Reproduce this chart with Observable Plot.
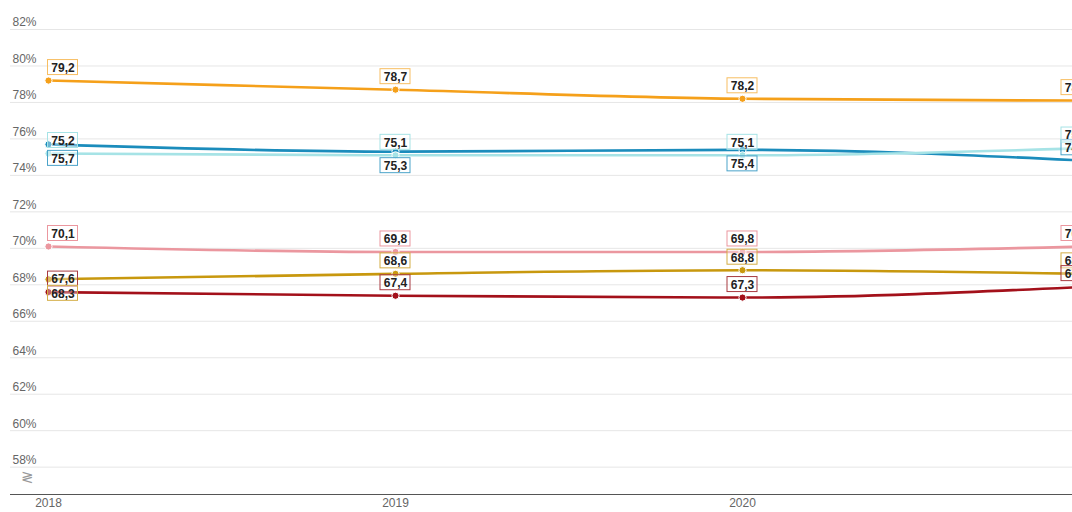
<!DOCTYPE html>
<html>
<head>
<meta charset="utf-8">
<script src="https://cdn.jsdelivr.net/npm/d3@7"></script>
<script src="https://cdn.jsdelivr.net/npm/@observablehq/plot@0.6"></script>
<style>
  html, body { margin: 0; padding: 0; background: #fff; overflow: hidden; }
  #chart svg { overflow: hidden; }
</style>
</head>
<body>
<div id="chart"></div>
<script>
// ---- data ----
const years = [2018, 2019, 2020, 2021];
const yTicks = [58, 60, 62, 64, 66, 68, 70, 72, 74, 76, 78, 80, 82];

const seriesOrange   = [79.2, 78.7, 78.2, 78.1];
const seriesDarkBlue = [75.7, 75.3, 75.4, 74.8];
const seriesCyan     = [75.2, 75.1, 75.1, 75.5];
const seriesPink     = [70.1, 69.8, 69.8, 70.1];
const seriesGold     = [68.3, 68.6, 68.8, 68.6];
const seriesDarkRed  = [67.6, 67.4, 67.3, 67.9];

// label placement relative to point (above / below)
const posOrange   = ["above", "above", "above", "above"];
const posDarkBlue = ["below", "below", "below", "above"];
const posCyan     = ["above", "above", "above", "above"];
const posPink     = ["above", "above", "above", "above"];
const posGold     = ["below", "above", "above", "above"];
const posDarkRed  = ["above", "above", "above", "above"];

const series = [
  {name: "Orange",    values: seriesOrange,   pos: posOrange,   color: "#f5a01a", border: "#f7be62"},
  {name: "Dark blue", values: seriesDarkBlue, pos: posDarkBlue, color: "#1b8cbc", border: "#4aa3c9"},
  {name: "Cyan",      values: seriesCyan,     pos: posCyan,     color: "#a6e3e6", border: "#a6e3e6"},
  {name: "Pink",      values: seriesPink,     pos: posPink,     color: "#eb979f", border: "#eb979f"},
  {name: "Gold",      values: seriesGold,     pos: posGold,     color: "#c8980e", border: "#d4ad45"},
  {name: "Dark red",  values: seriesDarkRed,  pos: posDarkRed,  color: "#a3101a", border: "#a83a40"}
];

const rows = [];
series.forEach(s => s.values.forEach((v, i) => rows.push({
  series: s.name, year: years[i], idx: i, value: v, pos: s.pos[i], color: s.color, border: s.border
})));

const fmt = v => v.toFixed(1).replace(".", ",");

// ---- marks ----
const marks = [];
marks.push(Plot.ruleY(yTicks, {y: d => d, stroke: "#e6e6e6", insetLeft: 10}));
marks.push(Plot.text(yTicks, {y: d => d, text: d => d + "%", frameAnchor: "left", textAnchor: "start",
  dx: 12, dy: -7, fill: "#666", fontSize: 12}));
marks.push(Plot.ruleY([56.5], {stroke: "#555", insetLeft: 10}));
marks.push(Plot.text(["≷"], {frameAnchor: "bottom-left", dx: 20, dy: -31, fill: "#999", fontSize: 15}));
marks.push(Plot.text(years, {x: d => d, text: d => String(d), frameAnchor: "bottom", dy: -6, fill: "#666", fontSize: 12}));

// lines & markers (cyan drawn after dark blue)
const drawOrder = ["Orange", "Dark blue", "Cyan", "Pink", "Gold", "Dark red"];
drawOrder.forEach(name => {
  const d = rows.filter(r => r.series === name);
  marks.push(Plot.line(d, {x: "year", y: "value", stroke: "color", strokeWidth: 2.6, curve: "monotone-x"}));
  marks.push(Plot.dot(d, {x: "year", y: "value", fill: "color", stroke: "white", strokeWidth: 1, r: 3.6}));
});

// data labels with boxes
const hShift = i => i === 0 ? 14.5 : (i === years.length - 1 ? -13 : 0);
const vShift = p => p === "above" ? -13 : 14;
const boxW = 30, boxH = 15;
const groups = d3.groups(rows, r => hShift(r.idx) + "|" + vShift(r.pos));
groups.forEach(([key, d]) => {
  const [dx, dy] = key.split("|").map(Number);
  marks.push(Plot.rect(d, {
    x1: "year", x2: "year", y1: "value", y2: "value",
    insetLeft: dx - boxW / 2, insetRight: -boxW / 2 - dx,
    insetTop: dy - boxH / 2, insetBottom: -boxH / 2 - dy,
    fill: "white", fillOpacity: 0.35, stroke: "border", strokeWidth: 1
  }));
  marks.push(Plot.text(d, {
    x: "year", y: "value", text: r => fmt(r.value), dx, dy: dy + 0.5,
    fill: "#222", fontWeight: "bold", fontSize: 12
  }));
});

const chart = Plot.plot({
  width: 1072,
  height: 512,
  marginTop: 0, marginRight: 0, marginBottom: 0, marginLeft: 0,
  x: {domain: [2018, 2021], range: [48, 1089], axis: null},
  y: {domain: [56.5, 82], range: [494, 29], axis: null},
  color: {type: "identity"},
  style: {fontFamily: "'Liberation Sans', Arial, sans-serif", background: "#fff", overflow: "hidden"},
  marks
});
document.getElementById("chart").appendChild(chart);
</script>
</body>
</html>
